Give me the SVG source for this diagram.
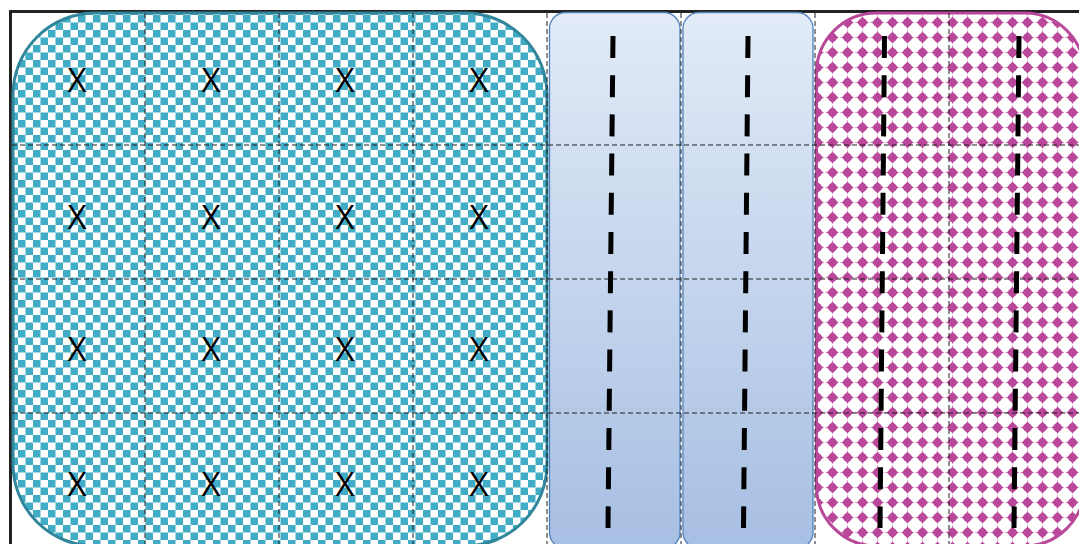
<svg xmlns="http://www.w3.org/2000/svg" width="1079" height="544" viewBox="0 0 1079 544">
  <defs>
    <pattern id="checker" width="15" height="15" patternUnits="userSpaceOnUse" x="3" y="0">
      <rect width="15" height="15" fill="#ffffff"/>
      <rect x="0" y="0" width="7.5" height="7.5" fill="#41ACC6"/>
      <rect x="7.5" y="7.5" width="7.5" height="7.5" fill="#41ACC6"/>
    </pattern>
    <pattern id="dots" width="15" height="15" patternUnits="userSpaceOnUse" x="0" y="0">
      <rect width="15" height="15" fill="#ffffff"/>
      <path d="M0 7.5 H15 M7.5 0 V15" stroke="#E3A6D2" stroke-width="1" stroke-dasharray="2 2"/>
      <polygon points="7.5,1.8 13.2,7.5 7.5,13.2 1.8,7.5" fill="#B9479A"/>
      <circle cx="7.5" cy="7.5" r="4" fill="#B9479A"/>
    </pattern>
    <linearGradient id="blueGrad" x1="0" y1="0" x2="0" y2="1">
      <stop offset="0" stop-color="#E2EBF7"/>
      <stop offset="1" stop-color="#A7BFE3"/>
    </linearGradient>
    <style>
      .grid { stroke: #1e1e1e; stroke-width: 1; stroke-dasharray: 5 3; fill: none; }
      .lane { stroke: #000000; stroke-width: 5; stroke-dasharray: 22 17.2; fill: none; }
      .col { fill: url(#blueGrad); stroke: #4F81BD; stroke-width: 1.3; }
      .mark { font-family: "Open Sans", "Liberation Sans", sans-serif; font-size: 33px; fill: #000000; text-anchor: middle; }
    </style>
  </defs>

  <rect x="0" y="0" width="1079" height="544" fill="#ffffff"/>

  <g id="frame">
    <rect x="10.5" y="11.5" width="1100" height="560" fill="none" stroke="#222222" stroke-width="3"/>
  </g>

  <g id="teal-panel">
    <rect x="13" y="13" width="534" height="533" rx="82" ry="82" fill="url(#checker)" stroke="#31869B" stroke-width="3"/>
  </g>

  <g id="blue-column-1">
    <rect x="549.5" y="12.5" width="130.5" height="536" rx="16" ry="16" class="col"/>
  </g>
  <g id="blue-column-2">
    <rect x="683" y="12.5" width="130" height="536" rx="16" ry="16" class="col"/>
  </g>

  <g id="magenta-panel">
    <rect x="816.5" y="13" width="268" height="533" rx="60" ry="60" fill="url(#dots)" stroke="#B9479A" stroke-width="3"/>
  </g>

  <g id="grid">
    <line class="grid" x1="145" y1="13" x2="145" y2="544"/>
    <line class="grid" x1="279" y1="13" x2="279" y2="544"/>
    <line class="grid" x1="413" y1="13" x2="413" y2="544"/>
    <line class="grid" x1="547" y1="13" x2="547" y2="544"/>
    <line class="grid" x1="681" y1="13" x2="681" y2="544"/>
    <line class="grid" x1="815" y1="13" x2="815" y2="544"/>
    <line class="grid" x1="949" y1="13" x2="949" y2="544"/>
    <line class="grid" x1="12" y1="145" x2="1079" y2="145"/>
    <line class="grid" x1="12" y1="279" x2="1079" y2="279"/>
    <line class="grid" x1="12" y1="413" x2="1079" y2="413"/>
  </g>

  <g id="marks">
    <text class="mark" x="77" y="92">X</text>
    <text class="mark" x="211" y="92">X</text>
    <text class="mark" x="345" y="92">X</text>
    <text class="mark" x="479" y="92">X</text>
    <text class="mark" x="77" y="229">X</text>
    <text class="mark" x="211" y="229">X</text>
    <text class="mark" x="345" y="229">X</text>
    <text class="mark" x="479" y="229">X</text>
    <text class="mark" x="77" y="361">X</text>
    <text class="mark" x="211" y="361">X</text>
    <text class="mark" x="345" y="361">X</text>
    <text class="mark" x="479" y="361">X</text>
    <text class="mark" x="77" y="496">X</text>
    <text class="mark" x="211" y="496">X</text>
    <text class="mark" x="345" y="496">X</text>
    <text class="mark" x="479" y="496">X</text>
  </g>

  <g id="connectors">
    <line class="lane" x1="613" y1="36" x2="608" y2="528"/>
    <line class="lane" x1="748" y1="36" x2="743.5" y2="528"/>
    <line class="lane" x1="884.5" y1="36" x2="880" y2="528"/>
    <line class="lane" x1="1019" y1="36" x2="1014" y2="528"/>
  </g>
</svg>
